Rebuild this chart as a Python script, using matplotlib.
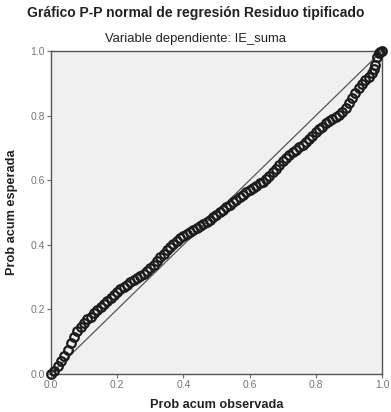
import matplotlib
matplotlib.use("Agg")
import matplotlib.pyplot as plt

# probabilidad acumulada observada / esperada (residuos tipificados)
prob_obs = [
    0.00, 0.01, 0.02, 0.03, 0.04, 0.05, 0.06, 0.07, 0.08, 0.09,
    0.10, 0.11, 0.12, 0.13, 0.14, 0.15, 0.16, 0.17, 0.18, 0.19,
    0.20, 0.21, 0.22, 0.23, 0.24, 0.25, 0.26, 0.27, 0.28, 0.29,
    0.30, 0.31, 0.32, 0.33, 0.34, 0.35, 0.36, 0.37, 0.38, 0.39,
    0.40, 0.41, 0.42, 0.43, 0.44, 0.45, 0.46, 0.47, 0.48, 0.49,
    0.50, 0.51, 0.52, 0.53, 0.54, 0.55, 0.56, 0.57, 0.58, 0.59,
    0.60, 0.61, 0.62, 0.63, 0.64, 0.65, 0.66, 0.67, 0.68, 0.69,
    0.70, 0.71, 0.72, 0.73, 0.74, 0.75, 0.76, 0.77, 0.78, 0.79,
    0.80, 0.81, 0.82, 0.83, 0.84, 0.85, 0.86, 0.87, 0.88, 0.89,
    0.90, 0.91, 0.92, 0.93, 0.94, 0.95, 0.96, 0.97, 0.975, 0.98,
    0.985, 0.99, 0.995, 1.00,
]
prob_esp = [
    0.000, 0.010, 0.025, 0.040, 0.056, 0.075, 0.097, 0.115, 0.132, 0.146,
    0.158, 0.170, 0.178, 0.188, 0.198, 0.208, 0.218, 0.226, 0.235, 0.244,
    0.253, 0.262, 0.270, 0.277, 0.284, 0.290, 0.296, 0.302, 0.310, 0.318,
    0.328, 0.339, 0.350, 0.362, 0.373, 0.384, 0.394, 0.403, 0.412, 0.420,
    0.427, 0.433, 0.440, 0.446, 0.452, 0.458, 0.465, 0.472, 0.478, 0.486,
    0.493, 0.501, 0.508, 0.516, 0.524, 0.532, 0.540, 0.548, 0.555, 0.563,
    0.570, 0.577, 0.583, 0.590, 0.596, 0.603, 0.614, 0.625, 0.636, 0.647,
    0.658, 0.668, 0.677, 0.686, 0.694, 0.702, 0.710, 0.719, 0.728, 0.738,
    0.748, 0.757, 0.766, 0.776, 0.783, 0.789, 0.795, 0.802, 0.811, 0.823,
    0.838, 0.855, 0.870, 0.884, 0.897, 0.909, 0.919, 0.932, 0.945, 0.956,
    0.980, 0.993, 0.998, 1.000,
]
ticks = [0.0, 0.2, 0.4, 0.6, 0.8, 1.0]

plt.rcParams["font.family"] = ["Liberation Sans", "DejaVu Sans"]

fig = plt.figure(figsize=(3.91, 4.12), dpi=100)
fig.patch.set_facecolor("white")
ax = fig.add_axes([0.1304, 0.0922, 0.8465, 0.784])
ax.set_facecolor("#f0f0f0")

# diagonal de referencia
ax.plot([0, 1], [0, 1], color="#555555", linewidth=0.9, zorder=2)
ax.plot(prob_obs, prob_esp, linestyle="none", marker="o", markersize=6.2,
        markerfacecolor="none", markeredgecolor="#1c1c1c",
        markeredgewidth=1.6, zorder=3, clip_on=False)

ax.set_xlim(0, 1)
ax.set_ylim(0, 1)
ax.set_xticks(ticks, [f"{t:.1f}" for t in ticks])
ax.set_yticks(ticks, [f"{t:.1f}" for t in ticks])
ax.tick_params(direction="out", length=3, width=0.9, colors="#777777",
               labelsize=7.5, pad=1.5)
for s in ax.spines.values():
    s.set_color("#555555")
    s.set_linewidth(1.0)

ax.set_xlabel("Prob acum observada", fontsize=9.2, fontweight="bold",
              color="#222222", labelpad=6)
ax.set_ylabel("Prob acum esperada", fontsize=9.2, fontweight="bold",
              color="#222222", labelpad=9)

fig.text(0.5, 1 - 13 / 412, "Gráfico P-P normal de regresión Residuo tipificado",
         ha="center", va="center", fontsize=10, fontweight="bold",
         color="#222222")
fig.text(0.5, 1 - 39 / 412, "Variable dependiente: IE_suma",
         ha="center", va="center", fontsize=9.4, color="#222222")

fig.savefig("out.png", dpi=100)
